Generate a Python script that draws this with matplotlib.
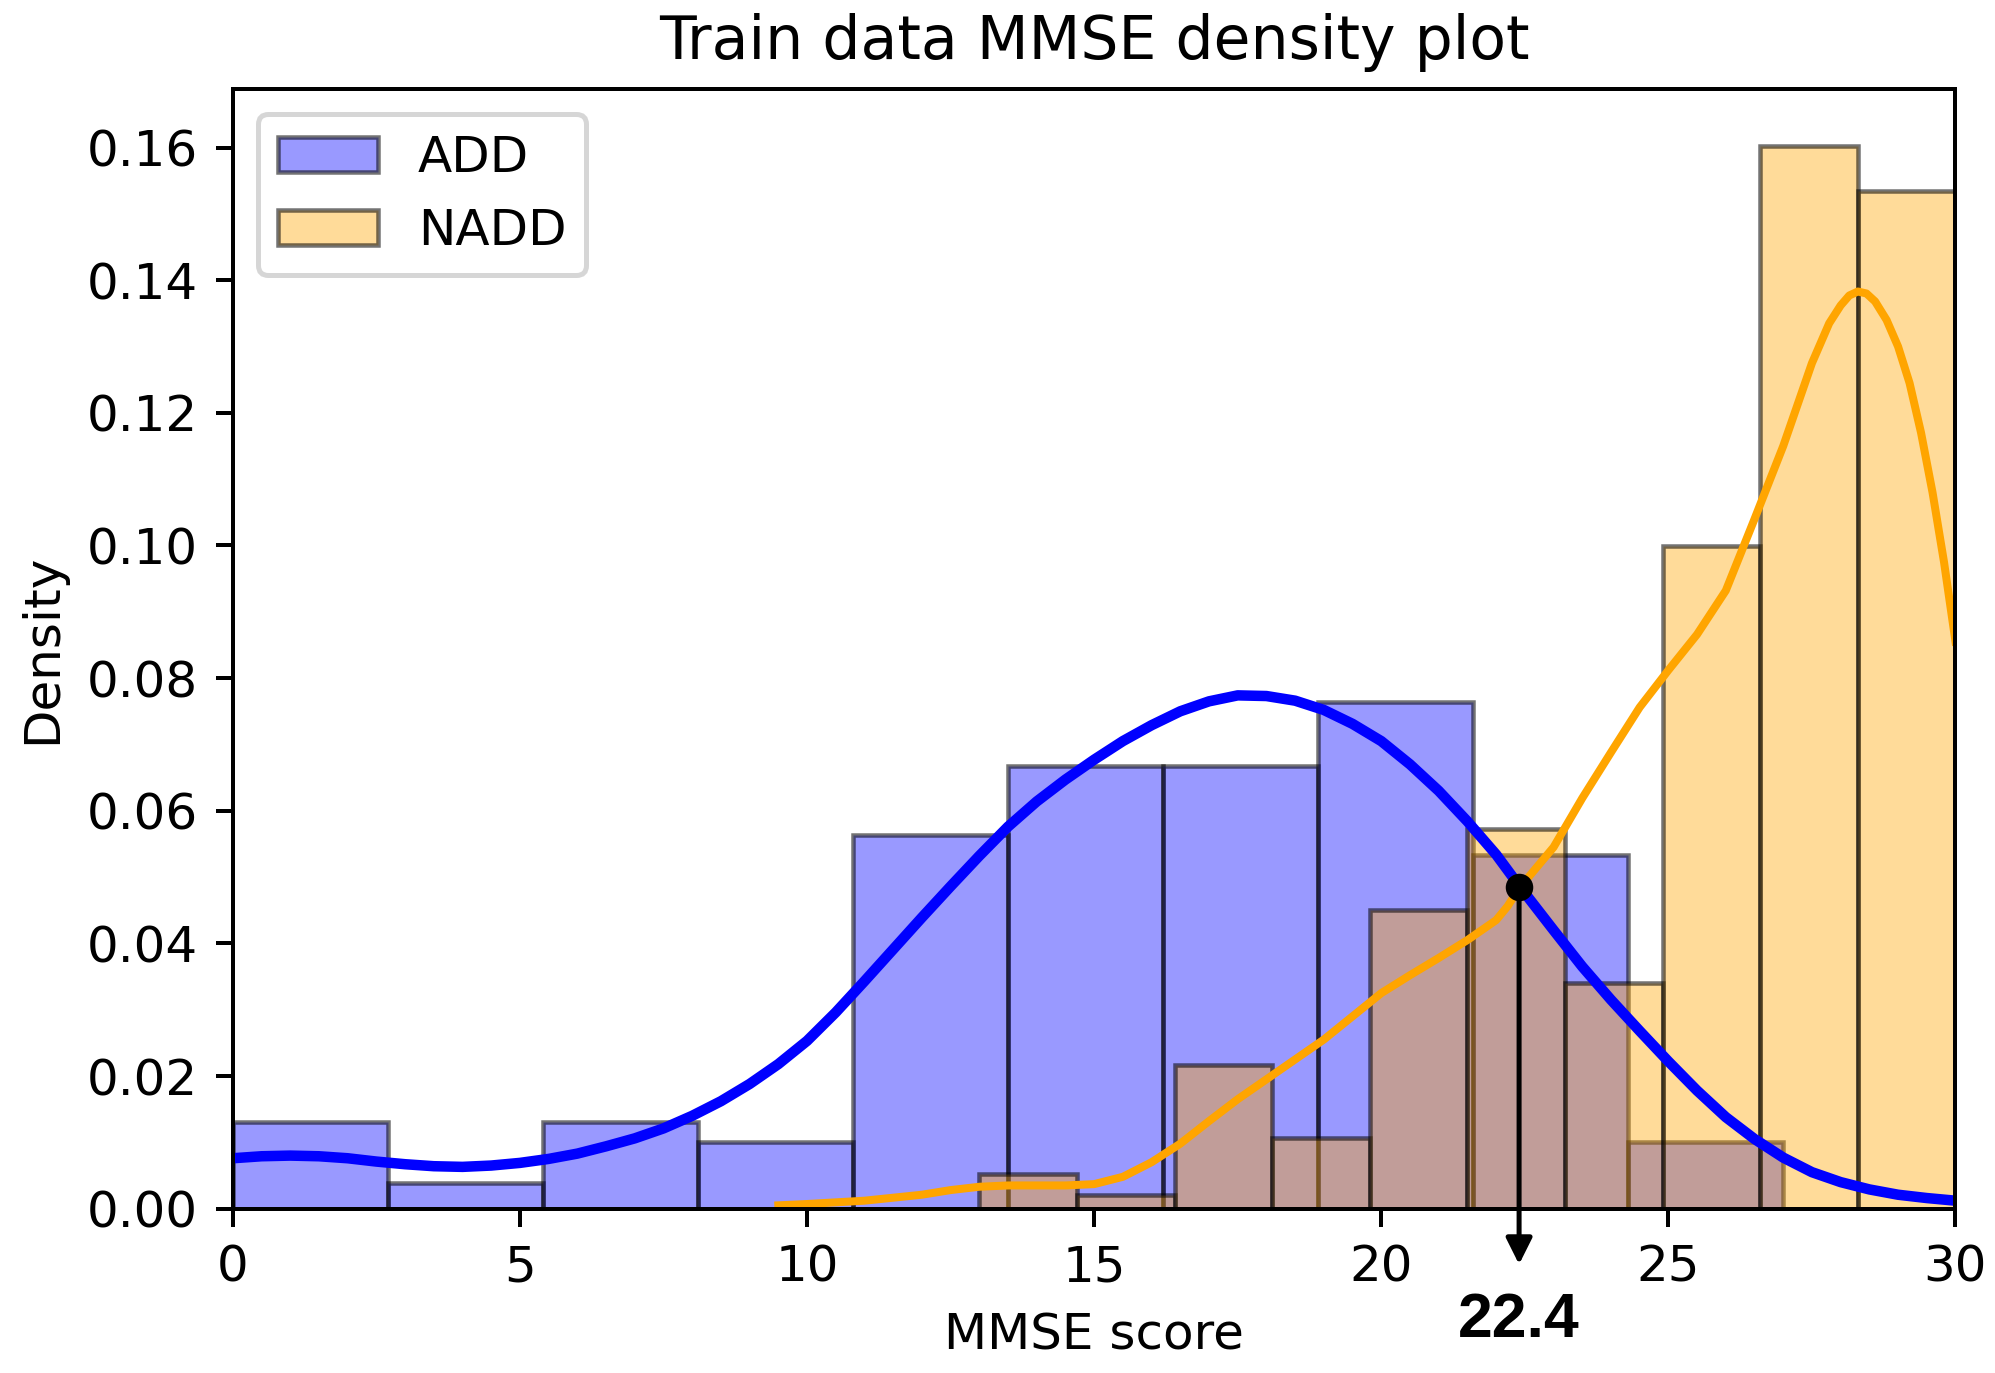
import matplotlib.pyplot as plt
from matplotlib.colors import to_rgba

# histogram bins (density)
add_edges = [0.0, 2.7, 5.4, 8.1, 10.8, 13.5, 16.2, 18.9, 21.6, 24.3, 27.0]
add_density = [0.0131, 0.0039, 0.0131, 0.0101, 0.0563, 0.0667, 0.0667, 0.0764, 0.0534, 0.0101]
nadd_edges = [13.0, 14.7, 16.4, 18.1, 19.8, 21.5, 23.2, 24.9, 26.6, 28.3, 30.0]
nadd_density = [0.0053, 0.0021, 0.0216, 0.0107, 0.0450, 0.0572, 0.0340, 0.0999, 0.1603, 0.1534]

# kde curves
add_kde_x = [0, 0.5, 1, 1.5, 2, 2.5, 3, 3.5, 4, 4.5, 5, 5.5, 6, 6.5, 7, 7.5, 8, 8.5, 9, 9.5,
             10, 10.5, 11, 11.5, 12, 12.5, 13, 13.5, 14, 14.5, 15, 15.5, 16, 16.5, 17, 17.5,
             18, 18.5, 19, 19.5, 20, 20.5, 21, 21.5, 22, 22.4, 23, 23.5, 24, 24.5, 25, 25.5,
             26, 26.5, 27, 27.5, 28, 28.5, 29, 29.5, 30]
add_kde_y = [0.0076, 0.0079, 0.0080, 0.0079, 0.0076, 0.0071, 0.0067, 0.0064, 0.0063, 0.0065,
             0.0069, 0.0075, 0.0083, 0.0094, 0.0106, 0.0121, 0.0140, 0.0162, 0.0188, 0.0218,
             0.0253, 0.0296, 0.0343, 0.0391, 0.0439, 0.0486, 0.0532, 0.0576, 0.0614, 0.0647,
             0.0677, 0.0705, 0.0729, 0.0750, 0.0765, 0.0774, 0.0773, 0.0766, 0.0752, 0.0731,
             0.0705, 0.0670, 0.0630, 0.0584, 0.0534, 0.0487, 0.0420, 0.0365, 0.0315, 0.0268,
             0.0222, 0.0178, 0.0138, 0.0105, 0.0077, 0.0055, 0.0040, 0.0029, 0.0021, 0.0016,
             0.0012]
nadd_kde_x = [9.5, 10, 11, 12, 12.5, 13, 13.5, 14, 14.5, 15, 15.5, 16, 16.5, 17, 17.5, 18,
              18.5, 19, 19.5, 20, 20.5, 21, 21.5, 22, 22.2, 22.4, 23, 23.5, 24, 24.5, 25,
              25.5, 26, 26.5, 27, 27.5, 27.8, 28.0, 28.15, 28.3, 28.45, 28.6, 28.8, 29.0,
              29.2, 29.4, 29.6, 29.8, 30]
nadd_kde_y = [0.0005, 0.0007, 0.0012, 0.0021, 0.0028, 0.0033, 0.0035, 0.0035, 0.0035, 0.0037,
              0.0048, 0.0070, 0.0098, 0.0132, 0.0165, 0.0195, 0.0225, 0.0255, 0.0290, 0.0325,
              0.0352, 0.0378, 0.0405, 0.0435, 0.0456, 0.0483, 0.0545, 0.0619, 0.0688, 0.0756,
              0.0812, 0.0866, 0.0932, 0.1040, 0.1150, 0.1275, 0.1335, 0.1362, 0.1377, 0.1383,
              0.1380, 0.1368, 0.1340, 0.1300, 0.1245, 0.1170, 0.1080, 0.0975, 0.0855]

cut_x = 22.4
cut_y = 0.0485

fig = plt.figure(figsize=(1995 / 360, 1373 / 360), dpi=360)
ax = fig.add_axes([0.1167, 0.1197, 0.8635, 0.8153])

add_w = [b - a for a, b in zip(add_edges[:-1], add_edges[1:])]
nadd_w = [b - a for a, b in zip(nadd_edges[:-1], nadd_edges[1:])]
edge = (0, 0, 0, 0.55)
ax.bar(add_edges[:-1], add_density, width=add_w, align='edge', color=to_rgba('blue', 0.4),
       edgecolor=edge, linewidth=0.9, label='ADD')
ax.bar(nadd_edges[:-1], nadd_density, width=nadd_w, align='edge', color=to_rgba('orange', 0.4),
       edgecolor=edge, linewidth=0.9, label='NADD')

ax.plot(add_kde_x, add_kde_y, color='blue', lw=2.1)
ax.plot(nadd_kde_x, nadd_kde_y, color='orange', lw=1.6)

# threshold marker
ax.plot([cut_x], [cut_y], 'o', color='black', ms=4.5, zorder=5)
ax.annotate('', xy=(cut_x, -0.0084), xytext=(cut_x, cut_y),
            arrowprops=dict(arrowstyle='-|>', color='black', lw=1.0,
                            mutation_scale=11, shrinkA=0, shrinkB=0),
            annotation_clip=False, zorder=5)
ax.text(cut_x, -0.0168, '22.4', ha='center', va='center', fontsize=12.5,
        fontweight='bold', family=['Liberation Sans', 'DejaVu Sans'], clip_on=False)

ax.set_xlim(0, 30)
ax.set_ylim(0, 0.1688)
ax.set_xticks([0, 5, 10, 15, 20, 25, 30])
ax.set_yticks([0.0, 0.02, 0.04, 0.06, 0.08, 0.10, 0.12, 0.14, 0.16])
ax.set_xlabel('MMSE score')
ax.set_ylabel('Density')
ax.set_title('Train data MMSE density plot')
ax.legend(loc='upper left')

fig.savefig('out.png', dpi=360)
